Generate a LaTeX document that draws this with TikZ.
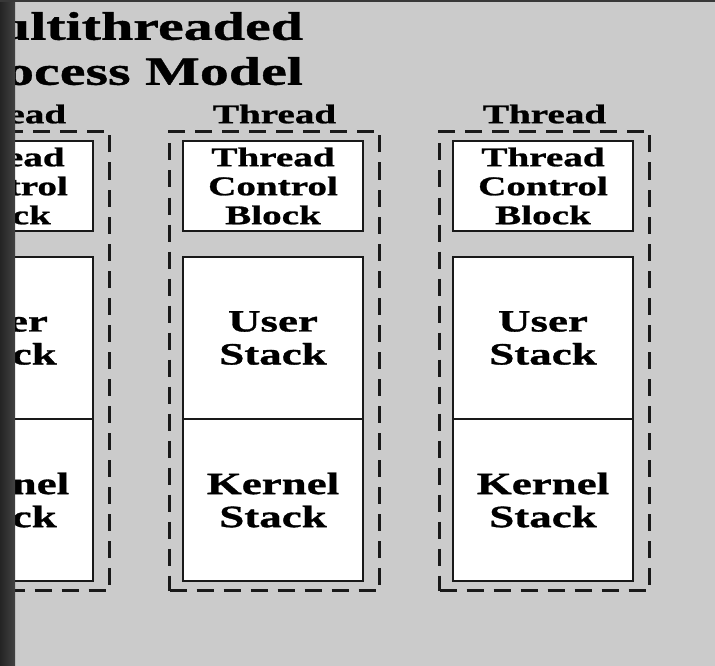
\documentclass[tikz,border=0pt]{standalone}
\usepackage{fontspec}
\newfontfamily\slidefont{Liberation Serif}[FakeStretch=1.45, FakeBold=1]
\usetikzlibrary{positioning,fit}
\definecolor{slidegray}{RGB}{203,203,203}

\begin{document}
\begin{tikzpicture}[%
        x=1pt, y=-1pt,
        every node/.style={inner sep=0pt, outer sep=0pt, align=center, font=\slidefont\bfseries},
        block/.style={draw=black!90, fill=white, line width=2.2pt, minimum width=180pt},
        tcb/.style={block, minimum height=90pt, font=\slidefont\bfseries\fontsize{27}{29}\selectfont},
        stack/.style={block, minimum height=162pt, font=\slidefont\bfseries\fontsize{31}{33}\selectfont},
        threadbox/.style={draw=black!90, line width=2.6pt, dash pattern=on 17pt off 10pt, inner xsep=15pt, inner ysep=9.5pt},
        lbl/.style={font=\slidefont\bfseries\fontsize{27}{29}\selectfont},
        title/.style={font=\slidefont\bfseries\fontsize{40}{45}\selectfont, align=right}
      ]
      \useasboundingbox (0,0) rectangle (715,666);
      \clip (0,0) rectangle (715,666);
      \fill[slidegray] (0,0) rectangle (715,666);
      \node [title, anchor=north east] (heading) at (303,12) {Multithreaded\\Process Model};
      % one column per thread
      \foreach \i/\x in {1/3,2/273,3/543}{
        \node [tcb] (tcb\i) at (\x,186) {Thread\\Control\\Block};
        \node [stack, below=26pt of tcb\i] (user\i) {User\\Stack};
        \node [stack, below=0pt of user\i] (kern\i) {Kernel\\Stack};
        \node [threadbox, fit=(tcb\i)(kern\i), xshift=1.5pt] (thr\i) {};
        \node [lbl, above=8pt of thr\i] (hdr\i) {Thread};
      }
      \shade [left color=black!86, right color=black!74] (0,0) rectangle (15,666);
      \fill [black!78] (0,0) rectangle (715,2.5);
    \end{tikzpicture}
\end{document}
